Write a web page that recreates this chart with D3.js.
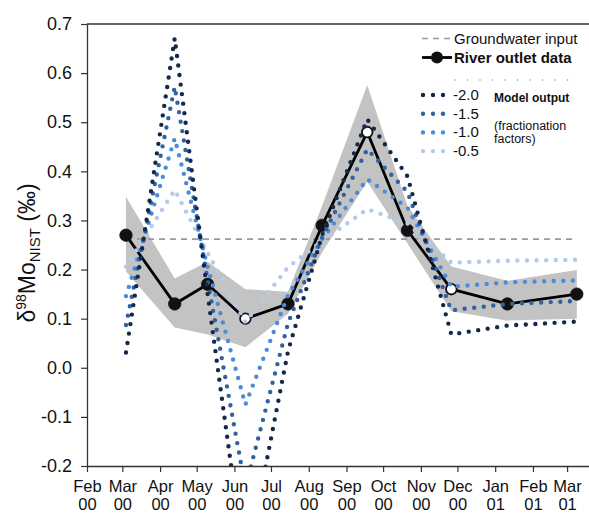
<!DOCTYPE html>
<html>
<head>
<meta charset="utf-8">
<script src="https://cdn.jsdelivr.net/npm/d3@7"></script>
<style>
  html, body { margin: 0; padding: 0; background: #fff; }
  svg { display: block; font-family: "Liberation Sans", Arial, sans-serif; }
</style>
</head>
<body>
<svg id="chart" width="589" height="513"></svg>
<script>
// Sampling dates at the river outlet (also the model time steps)
const sampleDates = ["2000-03-04", "2000-04-13", "2000-05-10", "2000-06-10", "2000-07-15",
  "2000-08-12", "2000-09-18", "2000-10-21", "2000-11-26", "2001-01-11", "2001-03-09"];

// Measured δ98Mo at the river outlet (‰)
const riverOutlet = [0.27, 0.13, 0.17, 0.10, 0.13, 0.29, 0.48, 0.28, 0.16, 0.13, 0.15];
// Samples drawn with a hollow marker
const hollowSample = [false, false, false, true, false, false, true, false, true, false, false];

// Uncertainty envelope of the river data
const envelopeUpper = [0.348, 0.182, 0.216, 0.160, 0.155, 0.330, 0.576, 0.330, 0.206, 0.177, 0.199];
const envelopeLower = [0.196, 0.082, 0.068, 0.042, 0.110, 0.235, 0.379, 0.253, 0.115, 0.096, 0.100];

// Groundwater input composition (‰)
const groundwaterInput = 0.262;

// Model output for each fractionation factor
const fractionationFactors = ["-2.0", "-1.5", "-1.0", "-0.5"];
const modelF20 = [0.031, 0.671, 0.150, -0.412, 0.034, 0.270, 0.506, 0.390, 0.068, 0.086, 0.094];
const modelF15 = [0.087, 0.572, 0.178, -0.244, 0.091, 0.266, 0.445, 0.358, 0.117, 0.130, 0.136];
const modelF10 = [0.146, 0.467, 0.206, -0.075, 0.148, 0.262, 0.384, 0.326, 0.165, 0.174, 0.178];
const modelF05 = [0.206, 0.362, 0.234, 0.093, 0.205, 0.258, 0.323, 0.294, 0.214, 0.218, 0.220];

// Axis ticks
const yTicks = [-0.2, -0.1, 0.0, 0.1, 0.2, 0.3, 0.4, 0.5, 0.6, 0.7];
const monthTicks = ["2000-02-01", "2000-03-01", "2000-04-01", "2000-05-01", "2000-06-01",
  "2000-07-01", "2000-08-01", "2000-09-01", "2000-10-01", "2000-11-01", "2000-12-01",
  "2001-01-01", "2001-02-01", "2001-03-01"];

const parseDate = d3.timeParse("%Y-%m-%d");
const dates = sampleDates.map(parseDate);
const tickDates = monthTicks.map(parseDate);

const svg = d3.select("#chart");
const plot = { left: 87, right: 589, top: 24, bottom: 466 };

const x = d3.scaleTime()
  .domain([parseDate("2000-02-01"), parseDate("2001-03-19")])
  .range([plot.left, plot.right]);
const y = d3.scaleLinear().domain([-0.2, 0.7]).range([plot.bottom, plot.top]);

svg.append("defs").append("clipPath").attr("id", "plot-clip")
  .append("rect")
  .attr("x", plot.left).attr("y", plot.top)
  .attr("width", plot.right - plot.left).attr("height", plot.bottom - plot.top);

const riverRows = dates.map((d, i) => ({
  date: d, v: riverOutlet[i], hi: envelopeUpper[i], lo: envelopeLower[i], hollow: hollowSample[i]
}));

// Envelope
svg.append("path")
  .datum(riverRows)
  .attr("fill", "#c3c3c3")
  .attr("d", d3.area().x(d => x(d.date)).y0(d => y(d.lo)).y1(d => y(d.hi)));

// Groundwater input
svg.append("line")
  .attr("x1", x(dates[0])).attr("x2", x(dates[dates.length - 1]))
  .attr("y1", y(groundwaterInput)).attr("y2", y(groundwaterInput))
  .attr("stroke", "#9a9a9a").attr("stroke-width", 1.6)
  .attr("stroke-dasharray", "6 5");

// River outlet data
svg.append("path")
  .datum(riverRows)
  .attr("fill", "none").attr("stroke", "#000").attr("stroke-width", 2.8)
  .attr("stroke-linejoin", "round")
  .attr("d", d3.line().x(d => x(d.date)).y(d => y(d.v)));

svg.append("g").selectAll("circle")
  .data(riverRows)
  .join("circle")
  .attr("cx", d => x(d.date)).attr("cy", d => y(d.v))
  .attr("r", d => d.hollow ? 5.3 : 6.2)
  .attr("fill", d => d.hollow ? "#fff" : "#111")
  .attr("stroke", "#111").attr("stroke-width", d => d.hollow ? 1.8 : 0.8);

// Model outputs (dotted)
const modelSeries = [
  { name: "-0.5", values: modelF05, color: "#b4cbe8" },
  { name: "-1.0", values: modelF10, color: "#4a8bdb" },
  { name: "-1.5", values: modelF15, color: "#31619f" },
  { name: "-2.0", values: modelF20, color: "#14284b" }
];
const modelLine = d3.line().x(d => x(d.date)).y(d => y(d.v));
const dotStyle = sel => sel
  .attr("fill", "none").attr("stroke-width", 4.4)
  .attr("stroke-linecap", "round").attr("stroke-dasharray", "0 9.6");

svg.append("g").attr("clip-path", "url(#plot-clip)")
  .selectAll("path")
  .data(modelSeries)
  .join("path")
  .attr("stroke", d => d.color)
  .call(dotStyle)
  .attr("d", s => modelLine(dates.map((dt, i) => ({ date: dt, v: s.values[i] }))));

// Axes
const axisColor = "#333";
const yAxis = svg.append("g")
  .attr("transform", `translate(${plot.left},0)`)
  .attr("color", axisColor)
  .call(d3.axisLeft(y).tickValues(yTicks).tickSizeInner(6).tickSizeOuter(0)
    .tickPadding(9).tickFormat(v => v.toFixed(1)));
yAxis.selectAll("text").attr("font-size", 18).attr("fill", "#111")
  .attr("font-family", "'Liberation Sans', Arial, sans-serif");
yAxis.select(".domain").attr("stroke-width", 1.3);
yAxis.selectAll(".tick line").attr("stroke-width", 1.2);

const xAxis = svg.append("g")
  .attr("transform", `translate(0,${plot.bottom})`)
  .attr("color", axisColor)
  .call(d3.axisBottom(x).tickValues(tickDates).tickSizeInner(6).tickSizeOuter(0).tickFormat(""));
xAxis.select(".domain").attr("stroke-width", 1.3);
xAxis.selectAll(".tick line").attr("stroke-width", 1.2);
const fmtMonth = d3.timeFormat("%b"), fmtYear = d3.timeFormat("%y");
const xl = xAxis.selectAll(".tick").append("text")
  .attr("fill", "#111").attr("font-size", 16.5).attr("text-anchor", "middle")
  .attr("font-family", "'Liberation Sans', Arial, sans-serif");
xl.append("tspan").attr("x", 0).attr("y", 26).text(d => fmtMonth(d));
xl.append("tspan").attr("x", 0).attr("y", 44).text(d => fmtYear(d));

// Top frame line
svg.append("line")
  .attr("x1", plot.left).attr("x2", plot.right)
  .attr("y1", plot.top).attr("y2", plot.top)
  .attr("stroke", axisColor).attr("stroke-width", 1.3);

// Y axis title
const title = svg.append("text")
  .attr("transform", `translate(35,253) rotate(-90)`)
  .attr("text-anchor", "middle").attr("font-size", 23).attr("fill", "#111");
title.append("tspan").text("δ");
title.append("tspan").attr("font-size", 14).attr("dy", -9).text("98");
title.append("tspan").attr("dy", 9).text("Mo");
title.append("tspan").attr("font-size", 15).attr("dy", 5).text("NIST");
title.append("tspan").attr("dy", -5).text(" (‰)");

// Legend
const legend = svg.append("g").attr("font-size", 15).attr("fill", "#111");
legend.append("line")
  .attr("x1", 422).attr("x2", 452).attr("y1", 38.5).attr("y2", 38.5)
  .attr("stroke", "#9a9a9a").attr("stroke-width", 1.6).attr("stroke-dasharray", "6 5");
legend.append("text").attr("x", 454).attr("y", 43.5).text("Groundwater input");

legend.append("line")
  .attr("x1", 422).attr("x2", 452).attr("y1", 57.5).attr("y2", 57.5)
  .attr("stroke", "#000").attr("stroke-width", 2.8);
legend.append("circle").attr("cx", 437).attr("cy", 57.5).attr("r", 6).attr("fill", "#111");
legend.append("text").attr("x", 454).attr("y", 62.5).attr("font-weight", "bold")
  .text("River outlet data");

legend.append("line")
  .attr("x1", 455).attr("x2", 572).attr("y1", 80).attr("y2", 80)
  .attr("stroke", "#888").attr("stroke-width", 1.4).attr("stroke-linecap", "round")
  .attr("stroke-dasharray", "0 12.5");

const legendModels = fractionationFactors.map(f => modelSeries.find(s => s.name === f));
legendModels.forEach((s, i) => {
  const cy = 95 + i * 18.7;
  legend.append("line")
    .attr("x1", 423).attr("x2", 443.5).attr("y1", cy).attr("y2", cy)
    .attr("stroke", s.color).attr("stroke-width", 4.4)
    .attr("stroke-linecap", "round").attr("stroke-dasharray", "0 10");
  legend.append("text").attr("x", 453).attr("y", cy + 5).text(s.name);
});
legend.append("text").attr("x", 494).attr("y", 101.5).attr("font-size", 12)
  .attr("font-weight", "bold").text("Model output");
legend.append("text").attr("x", 494).attr("y", 130).attr("font-size", 12.5).text("(fractionation");
legend.append("text").attr("x", 494).attr("y", 143).attr("font-size", 12.5).text("factors)");
</script>
</body>
</html>
